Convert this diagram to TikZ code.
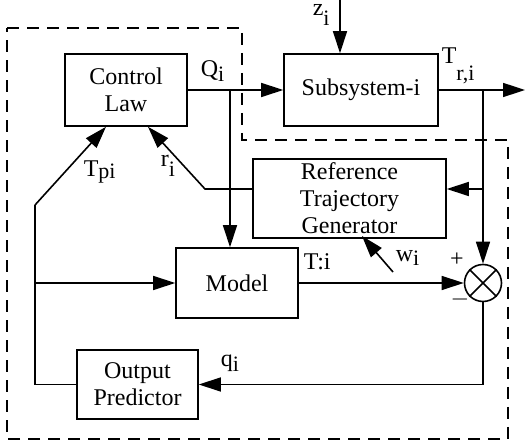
\documentclass[tikz,border=0pt]{standalone}
\usepackage{fontspec}
\setmainfont{Liberation Serif}
\usetikzlibrary{positioning,arrows.meta}
\newcommand{\low}[2][3pt]{\raisebox{-#1}{\fontsize{11}{12}\selectfont #2}}

\begin{document}
\begin{tikzpicture}[x=0.5pt, y=-0.5pt,
    font=\fontsize{12}{13.5}\selectfont,
    line width=0.8pt,
    block/.style={draw, rectangle, align=center, inner sep=0pt},
    sumjoint/.style={draw, circle, minimum size=18.5pt, inner sep=0pt},
    flow/.style={-{Triangle[length=11pt, width=7pt]}},
    lbl/.style={inner sep=0pt, anchor=base west}
]
    \useasboundingbox (0,0) rectangle (525,448);

    % local controller boundary
    \draw[dash pattern=on 6pt off 4pt] (7,28) -- (242,28) -- (242,140) -- (508,140) -- (508,439) -- (7,439) -- cycle;

    % blocks
    \node [block, minimum width=61pt, minimum height=36pt] (law) at (126,90) {Control\\Law};
    \node [block, minimum width=77pt, minimum height=36pt] (sub) at (361,90) {Subsystem-i};
    \node [block, minimum width=96.5pt, minimum height=39.5pt] (ref) at (349.5,198.5) {Reference\\Trajectory\\Generator};
    \node [block, minimum width=61pt, minimum height=35pt] (model) at (237,283) {Model};
    \node [block, minimum width=60.5pt, minimum height=34.5pt] (pred) at (137.5,384.5) {Output\\Predictor};
    \node [sumjoint] (sum) at (483,283) {};
    \draw (sum.north west) -- (sum.south east) (sum.north east) -- (sum.south west);

    % branch points and free ends
    \coordinate (zin) at (340,0);
    \coordinate (out) at (525,90);
    \coordinate (qsplit) at (230,90);
    \coordinate (tsplit) at (483,90);
    \coordinate (rin) at (483,189);
    \coordinate (rbend) at (205,189);
    \coordinate (fb) at (35,205);
    \coordinate (win) at (393,272);

    % connectors
    \draw[flow] (zin) -- (zin |- sub.north);
    \draw[flow] (law.east) -- (sub.west);
    \draw[flow] (sub.east) -- (out);
    \draw[flow] (qsplit) -- (qsplit |- model.north);
    \draw[flow] (tsplit) -- (sum.north);
    \draw[flow] (rin) -- (rin -| ref.east);
    \draw[flow] (rbend -| ref.west) -- (rbend) -- ([xshift=11pt]law.south);
    \draw[flow] (fb) -- ([xshift=-10pt]law.south);
    \draw (fb) -- (fb |- pred.west) -- (pred.west);
    \draw[flow] (fb |- model.west) -- (model.west);
    \draw[flow] (model.east) -- (sum.west);
    \draw[flow] (sum.south) -- (sum.south |- pred.east) -- (pred.east);
    \draw[flow] (win) -- (362,236);

    % labels
    \node [lbl] at (312,16) {z\low[5pt]{i}};
    \node [lbl] at (200,77) {Q\low[2.5pt]{i}};
    \node [lbl] at (441,64) {T\low[8.5pt]{r,i}};
    \node [lbl] at (83,177) {T\low[1pt]{pi}};
    \node [lbl] at (160,167) {r\low[5pt]{i}};
    \node [lbl] at (303,270) {T:i};
    \node [lbl] at (395,262) {w\low[2pt]{i}};
    \node at (457,260) {+};
    \node at (460,300) {$-$};
    \node [lbl] at (220,367) {q\low[2.5pt]{i}};
\end{tikzpicture}
\end{document}
